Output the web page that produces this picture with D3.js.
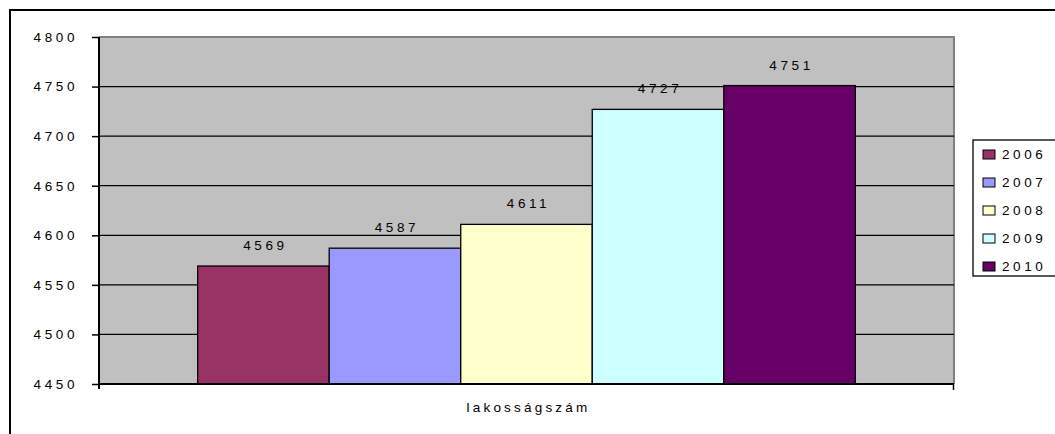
<!DOCTYPE html>
<html><head><meta charset="utf-8">
<script src="https://cdn.jsdelivr.net/npm/d3@7"></script>
<style>body{margin:0;background:#fff}svg{display:block}text{font-family:"Liberation Sans",Arial,sans-serif}</style>
</head><body>
<svg id="c" width="1055" height="434"></svg>
<script>
const categories = ["lakosságszám"];
const years = ["2006","2007","2008","2009","2010"];
const values = [4569, 4587, 4611, 4727, 4751];
const colors = ["#993366","#9999FF","#FFFFCC","#CCFFFF","#660066"];
const yTicks = [4450,4500,4550,4600,4650,4700,4750,4800];

const svg = d3.select("#c");
const L = 99, R = 954, T = 37, B = 384;
const ls = "3.6px";

// outer frame
svg.append("rect").attr("x",10).attr("y",10).attr("width",1100).attr("height",500)
  .attr("fill","none").attr("stroke","#000").attr("stroke-width",2);

const y = d3.scaleLinear().domain([4450,4800]).range([B,T]);
const x0 = d3.scaleBand().domain(categories).range([L,R]).paddingInner(0).paddingOuter(0.15);
const x1 = d3.scaleBand().domain(years).range([x0(categories[0]), x0(categories[0]) + x0.bandwidth()]);

// plot background
svg.append("rect").attr("x",L).attr("y",T).attr("width",R-L).attr("height",B-T).attr("fill","#C0C0C0");
svg.append("path").attr("d",`M${L},${T}H${R}V${B}`).attr("fill","none").attr("stroke","#808080").attr("stroke-width",2);

// gridlines
svg.append("g").selectAll("line").data(yTicks.filter(d=>d>4450 && d<4800)).join("line")
  .attr("x1",L).attr("x2",R).attr("y1",d=>y(d)).attr("y2",d=>y(d)).attr("stroke","#000").attr("stroke-width",1.3);

// bars
const g = svg.append("g");
years.forEach((yr,i)=>{
  g.append("rect").attr("x",x1(yr)).attr("y",y(values[i])).attr("width",x1.bandwidth()).attr("height",B-y(values[i]))
    .attr("fill",colors[i]).attr("stroke","#000").attr("stroke-width",1.3);
  g.append("text").attr("x",x1(yr)+x1.bandwidth()/2+2).attr("y",y(values[i])-16).attr("text-anchor","middle")
    .attr("font-size","13.5px").attr("letter-spacing",ls).attr("fill","#000").text(values[i]);
});

// y axis
const ya = svg.append("g").attr("transform",`translate(${L},0)`)
  .call(d3.axisLeft(y).tickValues(yTicks).tickSize(7).tickPadding(14).tickFormat(d3.format("d")));
ya.select(".domain").attr("stroke","#000").attr("stroke-width",2).attr("d",`M0,${T}V${B+5}`);
ya.selectAll(".tick line").attr("stroke","#000").attr("stroke-width",1.5);
ya.selectAll(".tick text").attr("font-size","13.5px").attr("letter-spacing",ls).attr("fill","#000")
  .attr("font-family","Liberation Sans, Arial, sans-serif");

// x axis
svg.append("line").attr("x1",L).attr("x2",R).attr("y1",B).attr("y2",B).attr("stroke","#000").attr("stroke-width",2);
svg.append("line").attr("x1",R-0.5).attr("x2",R-0.5).attr("y1",B).attr("y2",B+6).attr("stroke","#000").attr("stroke-width",1.5);
svg.append("text").attr("x",(L+R)/2+2).attr("y",412).attr("text-anchor","middle")
  .attr("font-size","13.5px").attr("letter-spacing","3.2px").text(categories[0]);

// legend
svg.append("rect").attr("x",973).attr("y",140).attr("width",200).attr("height",136)
  .attr("fill","#fff").attr("stroke","#000").attr("stroke-width",1.3);
years.forEach((yr,i)=>{
  const cy = 154 + i*28;
  svg.append("rect").attr("x",983).attr("y",cy-4).attr("width",12).attr("height",9)
    .attr("fill",colors[i]).attr("stroke","#000").attr("stroke-width",1);
  svg.append("text").attr("x",1002).attr("y",cy+5).attr("font-size","13.5px").attr("letter-spacing",ls).text(yr);
});
</script>
</body></html>
